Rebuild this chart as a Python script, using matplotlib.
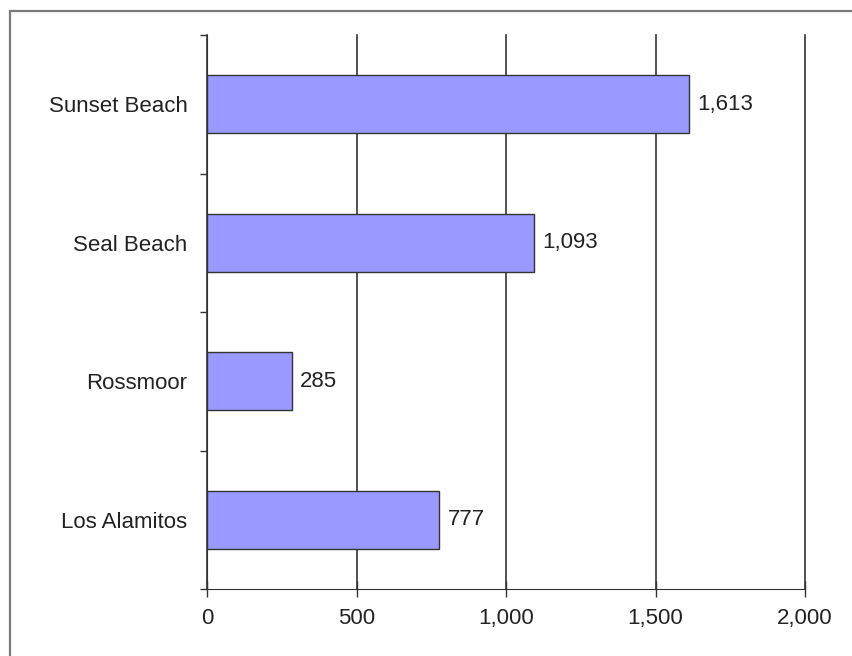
import matplotlib.pyplot as plt
from matplotlib.patches import Rectangle
from matplotlib.ticker import FixedLocator

plt.rcParams['font.family'] = ['Liberation Sans', 'DejaVu Sans']

places = ['Sunset Beach', 'Seal Beach', 'Rossmoor', 'Los Alamitos']
counts = [1613, 1093, 285, 777]
x_ticks = [0, 500, 1000, 1500, 2000]
x_labels = ['0', '500', '1,000', '1,500', '2,000']

fig = plt.figure(figsize=(8.52, 6.56), dpi=100)
# outer chart frame, runs off the right and bottom of the picture
fig.patches.append(Rectangle((10 / 852, -0.05), 1.1, 1 - 11 / 656 + 0.05,
                             transform=fig.transFigure, fill=False,
                             edgecolor='#7a7a7a', linewidth=1.6))

ax = fig.add_axes([207 / 852, 1 - 589 / 656, (805 - 207) / 852, (589 - 35) / 656])

ypos = list(range(len(places)))
ax.barh(ypos, counts, height=0.42, color='#9999ff', edgecolor='#333333',
        linewidth=1.0, zorder=3)
for y, v in zip(ypos, counts):
    ax.text(v + 27, y, '{:,}'.format(v), va='center', ha='left',
            fontsize=16, color='#222222')

ax.set_ylim(len(places) - 0.5, -0.5)
ax.set_xlim(0, 2000)
ax.set_xticks(x_ticks)
ax.set_xticklabels(x_labels, fontsize=16, color='#222222')
ax.set_yticks(ypos)
ax.set_yticklabels(places, fontsize=16, color='#222222')
ax.yaxis.set_minor_locator(FixedLocator([i - 0.5 for i in range(len(places) + 1)]))
ax.tick_params(axis='y', which='major', length=0, pad=14)
ax.tick_params(axis='y', which='minor', length=5, width=1, color='#333333')
ax.tick_params(axis='x', which='major', direction='inout', length=12, width=1,
               color='#333333', pad=8)

ax.grid(axis='x', color='#333333', linewidth=1.2, zorder=0)
for gl in ax.get_xgridlines():
    gl.set_clip_on(False)
ax.spines['top'].set_visible(False)
ax.spines['right'].set_visible(False)
ax.spines['left'].set_color('#333333')
ax.spines['bottom'].set_color('#333333')
ax.set_axisbelow(True)

fig.savefig('out.png', dpi=100)
